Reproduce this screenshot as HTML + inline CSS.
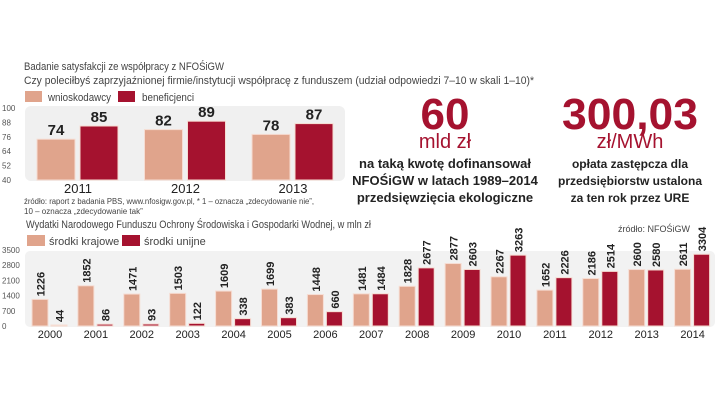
<!DOCTYPE html>
<html><head><meta charset="utf-8"><style>
body{margin:0;background:#fff;width:720px;height:405px;overflow:hidden;font-family:"Liberation Sans",sans-serif}
</style></head><body>
<svg width="720" height="405" xmlns="http://www.w3.org/2000/svg" font-family="Liberation Sans, sans-serif">
<text x="24" y="70" font-size="11" fill="#444" textLength="200" lengthAdjust="spacingAndGlyphs">Badanie satysfakcji ze współpracy z NFOŚiGW</text>
<text x="24" y="84" font-size="11" fill="#444" textLength="510" lengthAdjust="spacingAndGlyphs">Czy poleciłbyś zaprzyjaźnionej firmie/instytucji współpracę z funduszem (udział odpowiedzi 7–10 w skali 1–10)*</text>
<rect x="25" y="91" width="17" height="11" fill="#e0a48c"/>
<text x="48" y="101" font-size="11" fill="#444" textLength="63" lengthAdjust="spacingAndGlyphs">wnioskodawcy</text>
<rect x="118" y="91" width="17" height="11" fill="#a5122f"/>
<text x="142" y="101" font-size="11" fill="#444" textLength="52" lengthAdjust="spacingAndGlyphs">beneficjenci</text>
<rect x="25" y="106" width="320" height="75" rx="6" fill="#f0f0f0"/>
<g id="top"></g>
<text x="24" y="204" font-size="8" fill="#444" textLength="290" lengthAdjust="spacingAndGlyphs">źródło: raport z badania PBS, www.nfosigw.gov.pl, * 1 – oznacza „zdecydowanie nie”,</text>
<text x="24" y="214" font-size="8" fill="#444">10 – oznacza „zdecydowanie tak”</text>

<text x="445" y="129" font-size="44" font-weight="bold" fill="#a5122f" text-anchor="middle">60</text>
<text x="445" y="148" font-size="20" fill="#a5122f" text-anchor="middle">mld zł</text>
<g font-size="13" font-weight="bold" fill="#222" text-anchor="middle">
<text x="445" y="168">na taką kwotę dofinansował</text>
<text x="445" y="185">NFOŚiGW w latach 1989–2014</text>
<text x="445" y="202">przedsięwzięcia ekologiczne</text></g>
<text x="630" y="129" font-size="44" font-weight="bold" fill="#a5122f" text-anchor="middle" textLength="136" lengthAdjust="spacingAndGlyphs">300,03</text>
<text x="630" y="148" font-size="20" fill="#a5122f" text-anchor="middle">zł/MWh</text>
<g font-size="12" font-weight="bold" fill="#222" text-anchor="middle">
<text x="630" y="168">opłata zastępcza dla</text>
<text x="630" y="185">przedsiębiorstw ustalona</text>
<text x="630" y="202">za ten rok przez URE</text></g>

<text x="26" y="228" font-size="11" fill="#444" textLength="345" lengthAdjust="spacingAndGlyphs">Wydatki Narodowego Funduszu Ochrony Środowiska i Gospodarki Wodnej, w mln zł</text>
<text x="690" y="232" font-size="9" fill="#444" text-anchor="end">źródło: NFOŚiGW</text>
<rect x="27" y="235" width="18" height="11" fill="#e0a48c"/>
<text x="49" y="245" font-size="11" fill="#444">środki krajowe</text>
<rect x="122" y="235" width="18" height="11" fill="#a5122f"/>
<text x="144" y="245" font-size="11" fill="#444">środki unijne</text>
<rect x="25" y="251" width="690" height="76" rx="5" fill="#f2f2f2"/>
<g id="bot"></g>
</svg>
<script>
const topYears=["2011","2012","2013"];
const topA=[74,82,78];
const topB=[85,89,87];
const topTicks=[100,88,76,64,52,40];
const botYears=["2000","2001","2002","2003","2004","2005","2006","2007","2008","2009","2010","2011","2012","2013","2014"];
const botA=[1226,1852,1471,1503,1609,1699,1448,1481,1828,2877,2267,1652,2186,2600,2611];
const botB=[44,86,93,122,338,383,660,1484,2677,2603,3263,2226,2514,2580,3304];
const botTicks=[3500,2800,2100,1400,700,0];
const NS="http://www.w3.org/2000/svg";
function mk(p,t,a,txt){const e=document.createElementNS(NS,t);for(const k in a)e.setAttribute(k,a[k]);if(txt!=null)e.textContent=txt;p.appendChild(e);return e;}
const PINK="#e0a48c",RED="#a5122f";
const T=document.getElementById('top');
const ty=v=>180-(v-40)*1.2;
topTicks.forEach(v=>{const e=mk(T,'text',{x:2,y:ty(v)+3,'font-size':8,fill:'#555'},v);

});
topYears.forEach((yr,i)=>{const cx=78+i*107.5;
[[topA[i],PINK,cx-41],[topB[i],RED,cx+2]].forEach(([v,c,x],j)=>{
const r=mk(T,'rect',{x:x,y:ty(v),width:38,height:180-ty(v),fill:c,stroke:'#f6dcd2','stroke-width':1});


const l=mk(T,'text',{x:x+19,y:ty(v)-4,'font-size':15,'font-weight':'bold',fill:'#222','text-anchor':'middle'},v);

});
const yl=mk(T,'text',{x:cx,y:193,'font-size':13,fill:'#222','text-anchor':'middle'},yr);

});
const B=document.getElementById('bot');
const by=v=>326-v*76/3500;
botTicks.forEach(v=>{const e=mk(B,'text',{x:2,y:by(v)+3,'font-size':8,fill:'#555'},v);

});
botYears.forEach((yr,i)=>{const cx=50+i*45.9;
[[botA[i],PINK,cx-18],[botB[i],RED,cx+1]].forEach(([v,c,x],j)=>{
const r=mk(B,'rect',{x:x,y:by(v),width:16,height:Math.max(326-by(v),1),fill:c,stroke:'#f6dcd2','stroke-width':1});


const lx=x+12.5,ly=by(v)-3;
const l=mk(B,'text',{x:lx,y:ly,'font-size':11,'font-weight':'bold',fill:'#222',transform:`rotate(-90 ${lx} ${ly})`},v);

});
const yl=mk(B,'text',{x:cx,y:338,'font-size':11,fill:'#222','text-anchor':'middle'},yr);

});
</script>
</body></html>
